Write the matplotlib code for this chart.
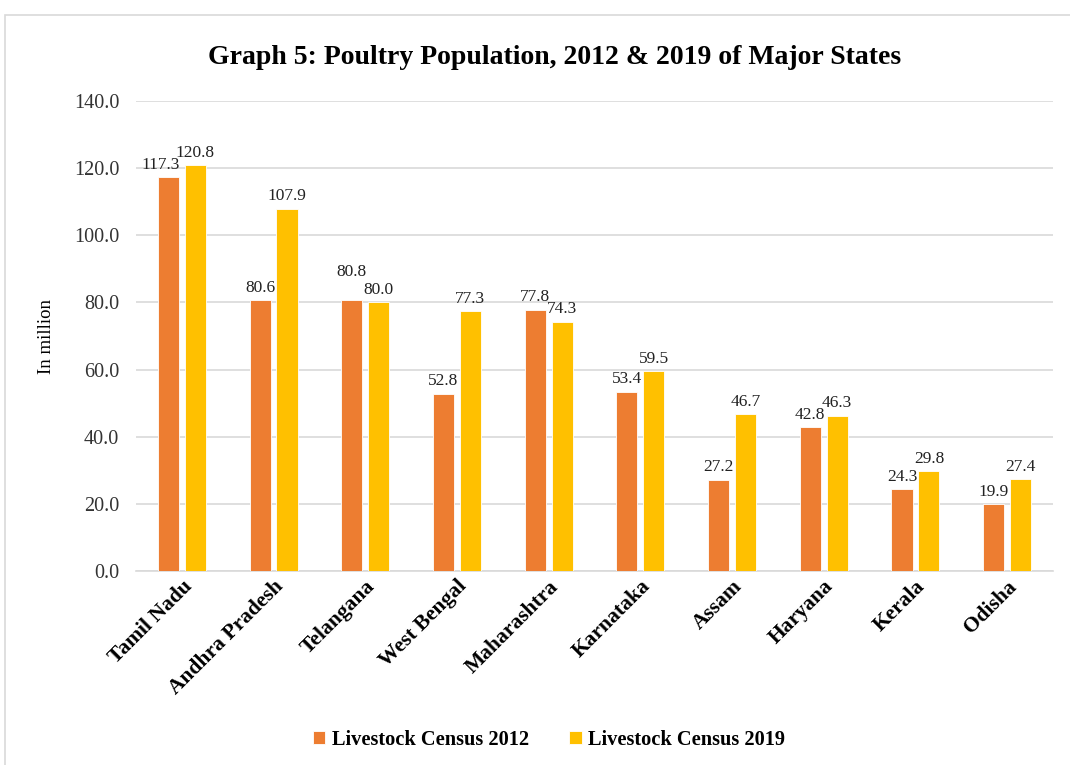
import matplotlib
matplotlib.use("Agg")
import matplotlib.pyplot as plt
import numpy as np
from matplotlib.patches import Rectangle

states = ["Tamil Nadu", "Andhra Pradesh", "Telangana", "West Bengal", "Maharashtra",
          "Karnataka", "Assam", "Haryana", "Kerala", "Odisha"]
census_2012 = [117.3, 80.6, 80.8, 52.8, 77.8, 53.4, 27.2, 42.8, 24.3, 19.9]
census_2019 = [120.8, 107.9, 80.0, 77.3, 74.3, 59.5, 46.7, 46.3, 29.8, 27.4]
yticks = [0, 20, 40, 60, 80, 100, 120, 140]

plt.rcParams['font.family'] = ['Liberation Serif', 'DejaVu Serif']

fig = plt.figure(figsize=(10.7, 7.65), dpi=100)
ax = fig.add_axes([136/1070, 1-571/765, (1053-136)/1070, (571-101)/765])

# chart border
fig.patches.append(Rectangle((5/1070, -0.05), 1.1, 1-15/765 + 0.05, transform=fig.transFigure,
                             fill=False, edgecolor='#d9d9d9', linewidth=1.2))

x = np.arange(len(states))
w = 0.23
off = 0.147
c1, c2 = '#ED7D31', '#FFC000'
b1 = ax.bar(x - off, census_2012, w, color=c1, edgecolor='white', linewidth=0.6, zorder=3,
            label='Livestock Census 2012')
b2 = ax.bar(x + off, census_2019, w, color=c2, edgecolor='white', linewidth=0.6, zorder=3,
            label='Livestock Census 2019')

# small label nudges (data units) to mimic overlap avoidance
nudge_y_2012 = {2: 4.5}
nudge_x_2012 = {0: -0.08}
for i, (xi, v) in enumerate(zip(x - off, census_2012)):
    ax.text(xi + nudge_x_2012.get(i, 0), v + 1.3 + nudge_y_2012.get(i, 0), f"{v:.1f}",
            ha='center', va='bottom', fontsize=12.5, color='#222222')
for xi, v in zip(x + off, census_2019):
    ax.text(xi, v + 1.3, f"{v:.1f}", ha='center', va='bottom', fontsize=12.5, color='#222222')

ax.set_xlim(-0.5, len(states) - 0.5)
ax.set_ylim(0, 140)
ax.set_yticks(yticks)
ax.set_yticklabels([f"{t:.1f}" for t in yticks], fontsize=14.5, color='#333333')
ax.yaxis.grid(True, color='#d9d9d9', linewidth=1.2, zorder=0)
ax.set_axisbelow(True)
ax.tick_params(axis='y', length=0, pad=12)
ax.tick_params(axis='x', length=0, pad=4)
for s in ['top', 'right', 'left']:
    ax.spines[s].set_visible(False)
ax.spines['bottom'].set_color('#d9d9d9')
ax.spines['bottom'].set_linewidth(1.2)

ax.set_xticks(x)
ax.set_xticklabels(states, rotation=45, ha='right', rotation_mode='anchor',
                   fontsize=15.5, fontweight='bold')

ax.set_ylabel("In million", fontsize=13.5, labelpad=14)

fig.text(555/1070, 1-58/765, "Graph 5: Poultry Population, 2012 & 2019 of Major States",
         ha='center', va='center', fontsize=20, fontweight='bold')

leg = fig.legend(handles=[b1, b2], loc='center', bbox_to_anchor=(549/1070, 1-740/765),
                 ncol=2, frameon=False, prop={'size': 14.7, 'weight': 'bold'},
                 handlelength=0.6, handleheight=0.6, handletextpad=0.3, columnspacing=2.0)

fig.savefig("out.png", dpi=100)
